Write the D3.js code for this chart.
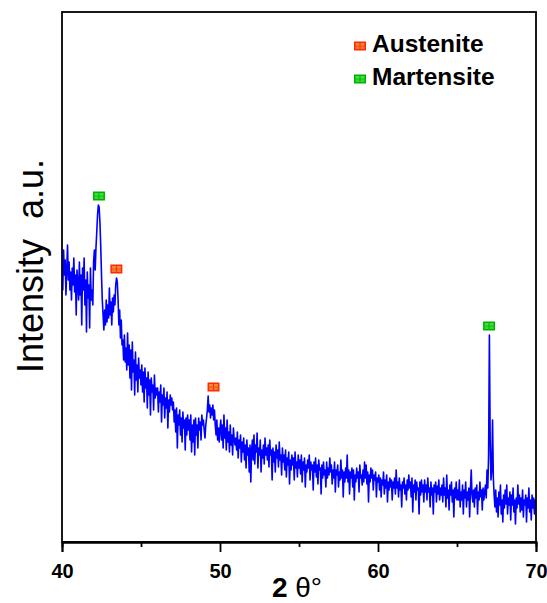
<!DOCTYPE html>
<html>
<head>
<meta charset="utf-8">
<script src="https://cdn.jsdelivr.net/npm/d3@7"></script>
<style>
  body { margin: 0; background: #fff; }
  svg { display: block; }
  text { font-family: "Liberation Sans", Arial, Helvetica, sans-serif; }
</style>
</head>
<body>
<svg id="chart" width="547" height="603"></svg>
<script>
// XRD scan: 2θ from 40° to 70° in 0.05° steps
const scanStart = 40;
const scanStep = 0.05;
const intensity = [
  285,260,300,275,290,255,280,305,270,288,260,278,250,282,265,292,258,275,235,280,
  267,250,288,255,275,225,282,260,292,245,270,218,278,252,265,222,282,250,260,245,
  288,300,280,302,318,335,345,343,328,305,275,250,235,220,240,225,250,228,245,232,
  262,235,248,225,252,238,255,245,265,272,268,250,225,240,212,230,205,210,190,215,
  188,202,180,217,185,205,172,200,160,208,178,190,155,198,170,185,158,192,172,180,
  165,185,158,178,148,182,162,172,142,178,155,170,135,172,158,165,140,175,152,162,
  155,162,138,158,148,165,128,155,145,162,132,152,142,158,122,150,138,155,145,152,
  140,148,128,140,118,142,102,135,125,140,115,132,108,138,122,130,100,132,115,135,
  120,130,110,135,98,125,108,130,95,132,115,125,102,132,120,128,110,135,125,130,
  120,112,125,132,140,154,138,145,132,142,135,145,130,140,125,115,130,110,122,108,
  122,130,110,125,102,135,112,122,100,130,108,118,98,125,105,115,95,122,110,105,
  112,100,118,92,110,102,115,88,108,98,112,90,105,82,110,95,102,78,105,68,
  100,110,90,115,86,105,98,117,82,102,95,110,78,100,92,105,86,112,95,102,
  90,105,83,110,95,100,70,102,88,98,78,105,92,100,83,108,90,95,75,102,
  88,95,80,100,73,92,85,98,66,90,80,95,85,92,70,98,82,88,73,95,
  82,90,76,95,68,88,80,92,63,85,78,90,82,95,70,88,80,85,60,88,
  78,92,73,85,66,90,80,82,56,85,72,88,75,80,63,88,72,82,75,92,
  78,85,66,80,72,88,58,80,75,85,63,78,70,90,72,80,53,78,68,82,
  72,95,68,80,56,78,72,82,63,80,50,75,68,82,72,78,58,85,72,75,
  65,80,68,88,72,85,66,78,48,75,68,82,72,80,60,75,70,78,53,72,
  68,75,60,72,53,70,65,78,56,70,62,75,48,68,60,72,63,70,50,68,
  62,72,56,80,62,68,53,72,60,65,43,68,62,72,56,65,50,70,60,75,
  62,68,53,72,38,65,58,70,50,68,60,62,36,68,55,70,58,65,48,70,
  58,65,50,72,58,62,43,68,55,62,36,65,58,68,48,64,56,70,50,62,
  55,65,48,72,55,62,43,75,52,60,40,65,55,68,48,60,33,62,52,68,
  50,60,50,70,43,58,50,65,36,60,52,68,43,58,50,62,33,60,80,55,
  48,60,43,62,52,65,36,58,50,68,53,60,40,62,50,58,65,52,80,62,
  95,215,110,70,80,130,72,55,43,60,38,52,33,58,45,65,36,50,28,55,
  42,60,46,65,36,52,45,58,30,55,45,62,38,50,26,52,42,65,46,55,
  38,52,40,60,33,50,45,55,28,52,42,62,38,50,30,55,42,52,36,50,
  45
];

const majorTicks = [40, 50, 60, 70];
const minorTicks = [45, 55, 65];

// indexed reflections
const peakAngles = [42.34, 43.44, 49.59, 67.03];
const peakPhases = ["Martensite", "Austenite", "Austenite", "Martensite"];
const legendPhases = ["Austenite", "Martensite"];

const phaseStyle = {
  Austenite:  { edge: "#ff2a00", cell: "#f08a3a" },
  Martensite: { edge: "#00b000", cell: "#3ee03e" }
};

const box = { left: 62, right: 536, top: 12, bottom: 542 };

const svg = d3.select("#chart");

const x = d3.scaleLinear().domain([40, 70]).range([box.left, box.right]);
const y = d3.scaleLinear().domain([8, 538]).range([box.bottom, box.top]);

const angle = i => scanStart + i * scanStep;

svg.append("defs").append("clipPath").attr("id", "plotClip")
  .append("rect")
  .attr("x", box.left).attr("y", box.top)
  .attr("width", box.right - box.left).attr("height", box.bottom - box.top);

// diffraction trace
const line = d3.line()
  .x((d, i) => x(angle(i)))
  .y(d => y(d));

svg.append("path")
  .datum(intensity)
  .attr("clip-path", "url(#plotClip)")
  .attr("fill", "none")
  .attr("stroke", "#0000ff")
  .attr("stroke-width", 1.6)
  .attr("stroke-linejoin", "round")
  .attr("d", line);

// phase marker glyph
function drawMarker(sel, phase) {
  const s = phaseStyle[phase];
  sel.append("rect").attr("x", -6).attr("y", -4.5).attr("width", 12).attr("height", 9)
    .attr("fill", s.edge);
  [[-4.5, -3], [0.5, -3], [-4.5, 0.3], [0.5, 0.3]].forEach(([cx, cy], k) => {
    sel.append("rect").attr("x", cx).attr("y", cy).attr("width", 4).attr("height", 2.7)
      .attr("fill", s.cell).attr("opacity", k < 2 ? 1 : 0.85);
  });
}

// markers above each reflection
peakAngles.forEach((a, k) => {
  const top = d3.max(intensity.filter((v, i) => Math.abs(angle(i) - a) <= 0.4));
  const g = svg.append("g")
    .attr("transform", `translate(${x(a)},${y(top) - 9})`);
  drawMarker(g, peakPhases[k]);
});

// frame
svg.append("rect")
  .attr("x", box.left).attr("y", box.top)
  .attr("width", box.right - box.left).attr("height", box.bottom - box.top)
  .attr("fill", "none").attr("stroke", "#000").attr("stroke-width", 1.8);

// bottom axis
const axisMajor = d3.axisBottom(x).tickValues(majorTicks).tickSize(10).tickPadding(12)
  .tickFormat(d3.format("d"));
const axisMinor = d3.axisBottom(x).tickValues(minorTicks).tickSize(5).tickFormat("");

const gMinor = svg.append("g").attr("transform", `translate(0,${box.bottom})`).call(axisMinor);
const gMajor = svg.append("g").attr("transform", `translate(0,${box.bottom})`).call(axisMajor);
[gMinor, gMajor].forEach(g => {
  g.select(".domain").attr("stroke", "#000").attr("stroke-width", 1.8);
  g.selectAll(".tick line").attr("stroke", "#000").attr("stroke-width", 1.8);
});
gMajor.selectAll(".tick text")
  .attr("fill", "#000")
  .style("font-family", '"Liberation Sans", Arial, sans-serif')
  .style("font-size", "20px")
  .style("font-weight", "bold");

// axis titles
const xTitle = svg.append("text")
  .attr("x", (box.left + box.right) / 2 - 2)
  .attr("y", 597)
  .attr("text-anchor", "middle")
  .style("font-size", "28px")
  .style("font-weight", "bold")
  .attr("fill", "#000");
xTitle.append("tspan").text("2 ");
xTitle.append("tspan").style("font-weight", "normal").text("θ°");

svg.append("text")
  .attr("transform", "translate(43,266) rotate(-90)")
  .attr("text-anchor", "middle")
  .style("font-size", "36px")
  .style("white-space", "pre")
  .attr("fill", "#000")
  .text("Intensity  a.u.");

// legend
const legend = svg.append("g").attr("transform", "translate(360,46)");
legendPhases.forEach((p, k) => {
  const row = legend.append("g").attr("transform", `translate(0,${k * 33})`);
  drawMarker(row, p);
  row.append("text")
    .attr("x", 12).attr("y", 6)
    .style("font-size", "24.5px")
    .style("font-weight", "bold")
    .attr("fill", "#000")
    .text(p);
});
</script>
</body>
</html>
